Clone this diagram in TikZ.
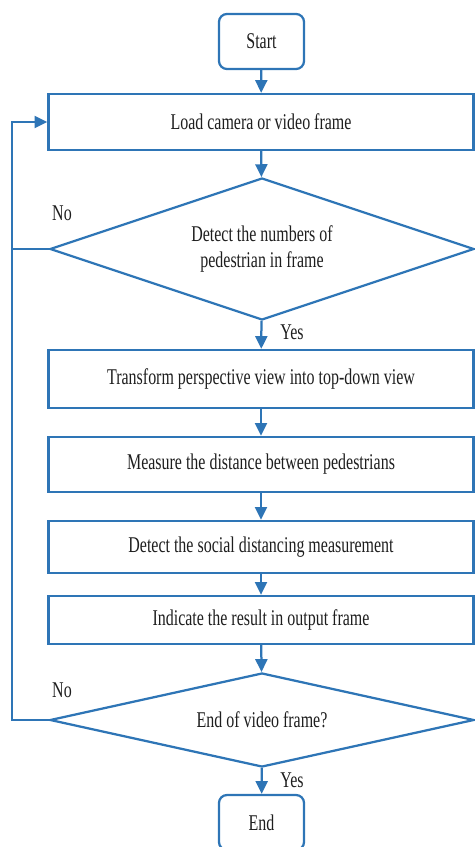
\documentclass[tikz,border=0pt]{standalone}
\usepackage{fontspec}
\setmainfont{Liberation Serif}[FakeStretch=0.71]
\usetikzlibrary{shapes.geometric,arrows.meta}
\definecolor{flowblue}{RGB}{46,117,182}
\definecolor{flowtext}{RGB}{30,30,30}
\begin{document}
\begin{tikzpicture}[x=0.025cm,y=-0.025cm,line width=1.6pt,draw=flowblue,
	>={Triangle[length=0.32cm,width=0.3cm]},
	every node/.style={text=flowtext,font=\fontsize{16pt}{18.5pt}\selectfont},
	term/.style={rectangle,rounded corners=0.2cm,draw=flowblue,minimum width=2.125cm,minimum height=1.375cm},
	proc/.style={rectangle,draw=flowblue,minimum width=10.625cm,inner sep=0pt},
	dec/.style={diamond,draw=flowblue,shape aspect=5,minimum width=10.6cm,inner sep=0pt,align=center}]
			\useasboundingbox (0,0) rectangle (474,847);
			\begin{scope}[every path/.style={draw=flowblue}]
			\node[term]	(start) at (261.5, 41.5)   {Start};
			
			\node[proc,minimum height=1.4cm]	(load) at (261, 122) 	{Load camera or video frame};
			
			\node[dec,minimum height=3.55cm]	(dec1) at (262, 249) 	{Detect the numbers of\\pedestrian in frame};
			
			\node[proc,minimum height=1.45cm]	(trans) at (261, 379) 	{Transform perspective view into top-down view};
			\node[proc,minimum height=1.375cm]	(meas) at (261, 464.5) 	{Measure the distance between pedestrians};
			\node[proc,minimum height=1.3cm]	(social) at (261, 547) 	{Detect the social distancing measurement};
			\node[proc,minimum height=1.2cm]	(indic) at (261, 620) 	{Indicate the result in output frame};
			
			\node[dec,minimum height=2.35cm]	(dec2) at (262, 720) 	{End of video frame?};
			
			\node[term]	(end) at (261.5, 822.5)   {End};
			\end{scope}
			
			\node (no1) at (62, 213) {No};
			\node (no2) at (62, 690) {No};
			\node (yes1) at (292, 332) {Yes};
			\node (yes2) at (292, 780) {Yes};
			
			\coordinate (back1) at (12, 249);
			\coordinate (back2) at (12, 720);
			
			\path [->,draw=flowblue] (start) edge (load);
			\path [->,draw=flowblue] (load) edge (dec1);
			\path [->,draw=flowblue] (dec1) edge (trans);
			\path [->,draw=flowblue] (trans) edge (meas);
			\path [->,draw=flowblue] (meas) edge (social);
			\path [->,draw=flowblue] (social) edge (indic);
			\path [->,draw=flowblue] (indic) edge (dec2);
			\path [->,draw=flowblue] (dec2) edge (end);
			
			\draw [flowblue] (dec2.west) -- (back2) -- (back1);
			\draw [->,flowblue] (dec1.west) -- (back1) |- (load.west);
			\end{tikzpicture}
\end{document}
